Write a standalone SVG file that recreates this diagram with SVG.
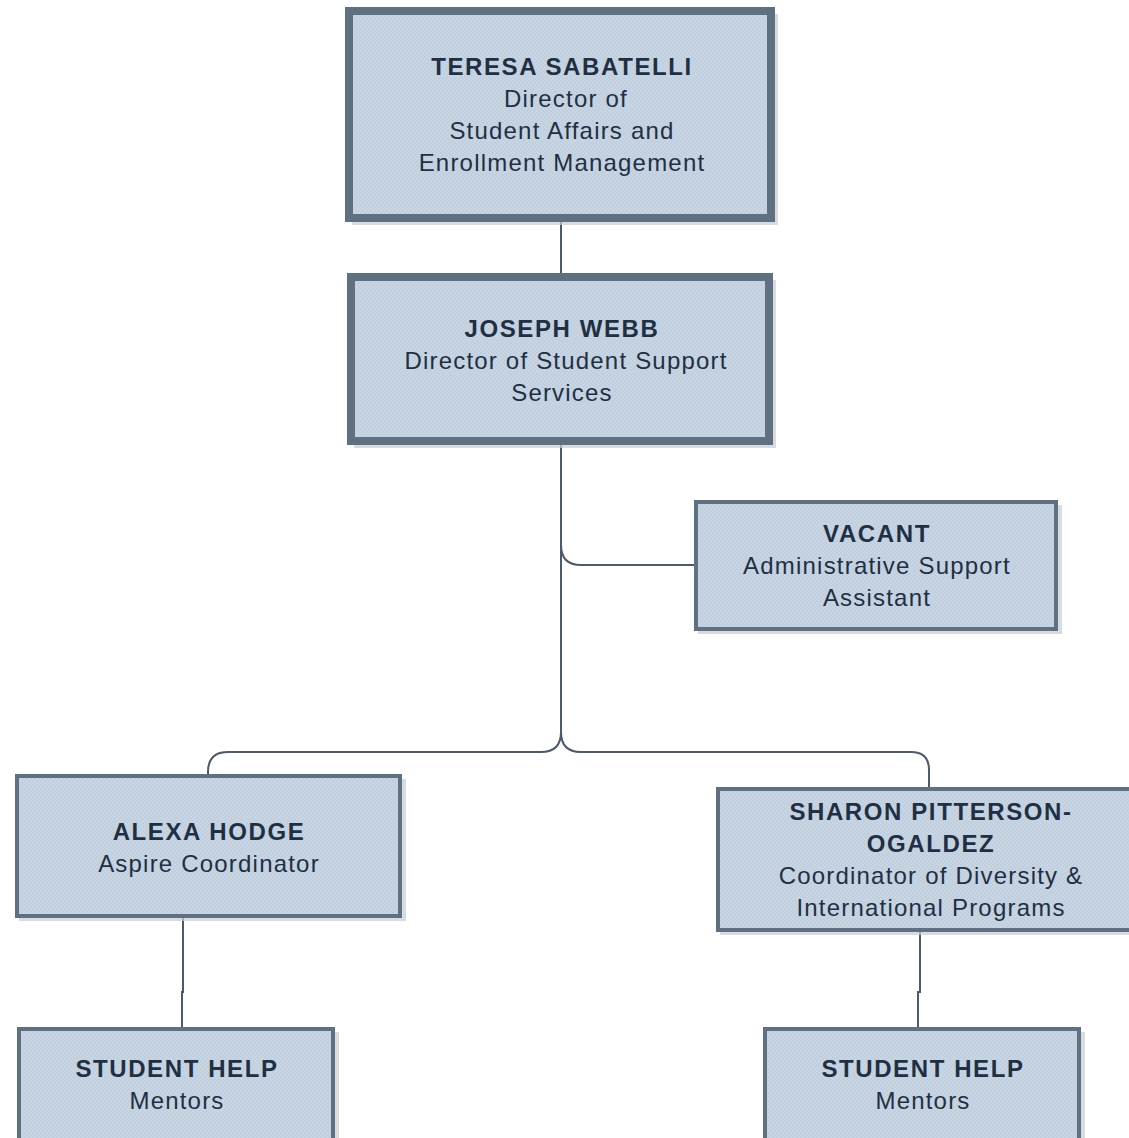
<svg xmlns="http://www.w3.org/2000/svg" width="1129" height="1138" viewBox="0 0 1129 1138">
  <defs>
    <pattern id="dots" width="4" height="4" patternUnits="userSpaceOnUse">
      <rect width="4" height="4" fill="#c7d5e3"/>
      <circle cx="1" cy="1" r="0.8" fill="#b9c9d9"/>
      <circle cx="3" cy="3" r="0.8" fill="#b9c9d9"/>
    </pattern>
  </defs>
  <style>
    .box { fill: url(#dots); stroke: #5f7083; }
    .thick { stroke-width: 8; }
    .thin { stroke-width: 4; }
    .shadow { fill: #c9cdd2; opacity: 0.7; }
    .conn { fill: none; stroke: #4b5b6c; stroke-width: 2; }
    text { font-family: "Liberation Sans", Arial, sans-serif; font-size: 24px; fill: #1f3044; text-anchor: middle; letter-spacing: 1.2px; }
    .b { font-weight: bold; letter-spacing: 1.6px; }
  </style>
  <rect width="1129" height="1138" fill="#ffffff"/>

  <g id="connectors">
    <path class="conn" d="M561 222 V273"/>
    <path class="conn" d="M561 445 V545 Q561 565 581 565 H695"/>
    <path class="conn" d="M561 445 V732 Q561 752 541 752 H228 Q208 752 208 772 V776"/>
    <path class="conn" d="M561 732 Q561 752 581 752 H911 Q929 752 929 770 V789"/>
    <path class="conn" d="M183 918 V992 H182 V1029"/>
    <path class="conn" d="M920 932 V992 H918 V1029"/>
  </g>

  <g id="node-teresa">
    <rect class="shadow" x="352" y="14" width="426" height="211"/>
    <rect class="box thick" x="349" y="11" width="422" height="207"/>
    <text class="b" x="562" y="75">TERESA SABATELLI</text>
    <text x="566" y="107">Director of</text>
    <text x="562" y="139">Student Affairs and</text>
    <text x="562" y="171">Enrollment Management</text>
  </g>

  <g id="node-joseph">
    <rect class="shadow" x="354" y="280" width="422" height="168"/>
    <rect class="box thick" x="351" y="277" width="418" height="164"/>
    <text class="b" x="562" y="337">JOSEPH WEBB</text>
    <text x="566" y="369">Director of Student Support</text>
    <text x="562" y="401">Services</text>
  </g>

  <g id="node-vacant">
    <rect class="shadow" x="698" y="505" width="364" height="129"/>
    <rect class="box thin" x="696" y="502" width="360" height="127"/>
    <text class="b" x="877" y="542">VACANT</text>
    <text x="877" y="574">Administrative Support</text>
    <text x="877" y="606">Assistant</text>
  </g>

  <g id="node-alexa">
    <rect class="shadow" x="19" y="779" width="387" height="142"/>
    <rect class="box thin" x="17" y="776" width="383" height="140"/>
    <text class="b" x="209" y="840">ALEXA HODGE</text>
    <text x="209" y="872">Aspire Coordinator</text>
  </g>

  <g id="node-sharon">
    <rect class="shadow" x="720" y="792" width="434" height="143"/>
    <rect class="box thin" x="718" y="789" width="430" height="141"/>
    <text class="b" x="931" y="820">SHARON PITTERSON-</text>
    <text class="b" x="931" y="852">OGALDEZ</text>
    <text x="931" y="884">Coordinator of Diversity &amp;</text>
    <text x="931" y="916">International Programs</text>
  </g>

  <g id="node-student-left">
    <rect class="shadow" x="21" y="1032" width="318" height="150"/>
    <rect class="box thin" x="19" y="1029" width="314" height="150"/>
    <text class="b" x="177" y="1077">STUDENT HELP</text>
    <text x="177" y="1109">Mentors</text>
  </g>

  <g id="node-student-right">
    <rect class="shadow" x="767" y="1032" width="318" height="150"/>
    <rect class="box thin" x="765" y="1029" width="314" height="150"/>
    <text class="b" x="923" y="1077">STUDENT HELP</text>
    <text x="923" y="1109">Mentors</text>
  </g>
</svg>
